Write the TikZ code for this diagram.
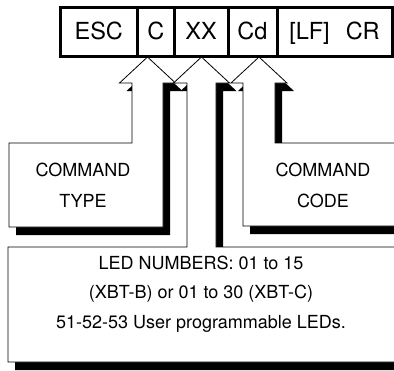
\documentclass[tikz,border=0pt]{standalone}
\usepackage{fontspec}
\setmainfont{TeX Gyre Heros}
\usetikzlibrary{positioning, shadows}

\begin{document}
\begin{tikzpicture}[x=1pt, y=-1pt,
  field/.style={draw, line width=3pt, minimum height=49pt, inner sep=0pt, outer sep=0pt,
    font=\fontsize{23.5}{23.5}\selectfont, text height=16.8pt, text depth=0pt},
  panel/.style={draw, fill=white, line width=0.8pt,
    drop shadow={shadow xshift=7pt, shadow yshift=-8pt, fill=black, opacity=1}},
  caption/.style={align=center, inner sep=0pt, font=\fontsize{18}{31}\selectfont}
]
\useasboundingbox (0,0) rectangle (394,370);
\clip (0,0) rectangle (394,370);

\draw[panel] (147.5,57) -- (175.5,83) -- (163,83) -- (163,227) -- (9,227) -- (9,143)
  -- (132,143) -- (132,83) -- (119.5,83) -- cycle;
\draw[panel] (201.5,57) -- (229.5,83) -- (216,83) -- (216,247) -- (410,247) -- (410,362)
  -- (8,362) -- (8,247) -- (187,247) -- (187,83) -- (173.5,83) -- cycle;
\draw[panel] (259,57) -- (287,83) -- (275,83) -- (275,143) -- (410,143) -- (410,226)
  -- (243,226) -- (243,83) -- (231,83) -- cycle;

\node[field, minimum width=77.5pt] (esc) at (98.75,31.5) {ESC};
\node[field, minimum width=36.5pt, right=0pt of esc] (c) {C};
\node[field, minimum width=54pt, right=0pt of c] (xx) {XX};
\node[field, minimum width=49pt, right=0pt of xx] (cd) {Cd};
\node[field, minimum width=115pt, right=0pt of cd] (lfcr) {[LF]\hspace{16pt}CR};

\node[caption] (cmdtype) at (83,185) {COMMAND\\TYPE};
\node[caption] (cmdcode) at (323,185) {COMMAND\\CODE};
\node[caption, font=\fontsize{18}{29.5}\selectfont] (ledno) at (201,294)
  {LED NUMBERS: 01 to 15\\(XBT-B) or 01 to 30 (XBT-C)\\51-52-53 User programmable LEDs.};
\end{tikzpicture}
\end{document}
